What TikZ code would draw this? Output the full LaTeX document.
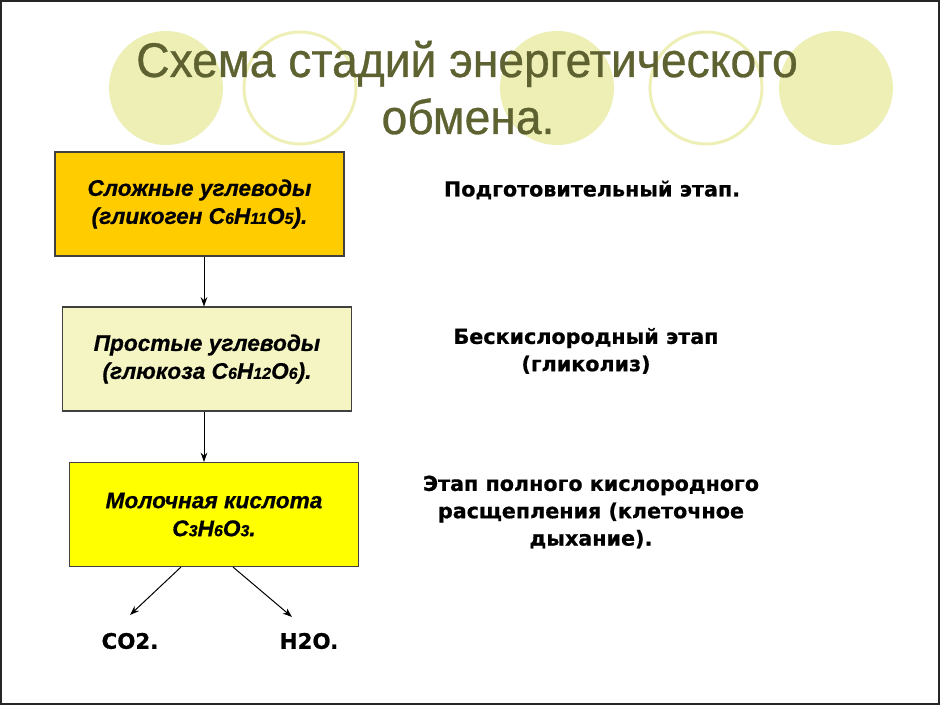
\documentclass[tikz,border=0pt]{standalone}
\usepackage{fontspec}
\setmainfont{Liberation Sans}
\newfontfamily\titlefont[FakeStretch=0.95,FakeBold=0.6]{Liberation Sans}
\newfontfamily\boxfont[BoldItalicFeatures={FakeBold=0.7}]{Liberation Sans}
\newfontfamily\verd[BoldFeatures={FakeBold=0.7}]{DejaVu Sans}
\usetikzlibrary{arrows.meta}
\definecolor{goldbox}{HTML}{FFCC00}
\definecolor{beigebox}{HTML}{F5F5C4}
\definecolor{yelbox}{HTML}{FFFF00}
\definecolor{circ}{HTML}{EDEFB5}
\definecolor{olive}{HTML}{5E6130}
\newcommand\sbs[1]{{\fontsize{12}{12}\selectfont #1}}
\begin{document}
\begin{tikzpicture}[x=0.75pt,y=-0.75pt,
  stagebox/.style={draw=black!75,line width=0.8pt,minimum width=289*0.75pt,minimum height=104*0.75pt,
    align=center,font=\boxfont\fontsize{17}{21}\selectfont\bfseries\itshape,inner sep=0pt},
  rtext/.style={align=center,font=\verd\fontsize{15.5}{20.5}\selectfont\bfseries},
  ttext/.style={text=olive,font=\titlefont\fontsize{36.5}{42}\selectfont,anchor=base},
  prod/.style={font=\verd\fontsize{16}{18}\selectfont\bfseries},
  arr/.style={-{Stealth[length=7pt,width=5pt]},line width=0.75pt,black}]
\useasboundingbox (0,0) rectangle (940,705);
\fill[white] (0,0) rectangle (940,705);
% background circles
\fill[circ] (166,88) circle[radius=57];
\draw[circ,line width=2.2pt] (300,88) circle[radius=56];
\fill[circ] (557,88) circle[radius=57];
\draw[circ,line width=2.2pt] (706,88) circle[radius=56];
\fill[circ] (836,88) circle[radius=57];
% title
\node[ttext] (title1) at (467,77) {Схема стадий энергетического};
\node[ttext] (title2) at (468,134) {обмена.};
% boxes
\node[stagebox,fill=goldbox] (b1) at (199.5,204) {Сложные углеводы\\(гликоген C\sbs{6}H\sbs{11}O\sbs{5}).};
\node[stagebox,fill=beigebox] (b2) at (207,359) {Простые углеводы\\(глюкоза C\sbs{6}H\sbs{12}O\sbs{6}).};
\node[stagebox,fill=yelbox] (b3) at (214,514.5) {Молочная кислота\\C\sbs{3}H\sbs{6}O\sbs{3}.};
% arrows
\coordinate (ax) at (204,0);
\draw[arr] (b1.south -| ax) -- (b2.north -| ax);
\draw[arr] (b2.south -| ax) -- (b3.north -| ax);
\coordinate (s1) at (181,0);
\coordinate (s2) at (233,0);
\coordinate (e1) at (130,615);
\coordinate (e2) at (292,617);
\draw[arr] (b3.south -| s1) -- (e1);
\draw[arr] (b3.south -| s2) -- (e2);
% products
\node[prod] (co2) at (130,641) {CO2.};
\node[prod] (h2o) at (309,641) {H2O.};
% right texts
\node[rtext] (t1) at (592,190) {Подготовительный этап.};
\node[rtext] (t2) at (586,351) {Бескислородный этап\\(гликолиз)};
\node[rtext] (t3) at (591,512) {Этап полного кислородного\\расщепления (клеточное\\дыхание).};
% frame
\draw[black!85,line width=1.5pt] (1,1) rectangle (939,704);
\end{tikzpicture}
\end{document}
